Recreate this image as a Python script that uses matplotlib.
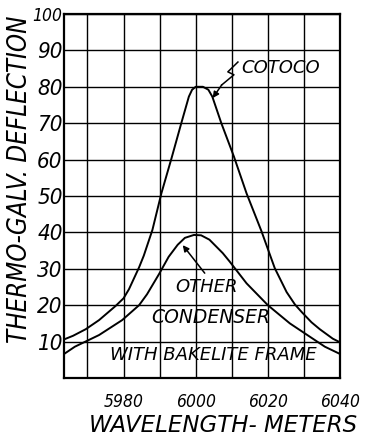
import matplotlib
matplotlib.use("Agg")
import matplotlib.pyplot as plt

# values
cotoco_x = [5963.5, 5966, 5969.5, 5973.2, 5977.8, 5980, 5981.5, 5984.3, 5985.6,
            5988, 5990.5, 5993.3, 5996, 5998.1, 5999, 6000, 6002, 6003.5,
            6004.6, 6007.1, 6010.6, 6014.1, 6018.2, 6021.9, 6025.2, 6027.5,
            6029.4, 6032.1, 6034.4, 6038, 6040]
cotoco_y = [10.6, 11.6, 13.4, 15.9, 19.8, 21.9, 24.4, 30.4, 33.6,
            40.7, 50.8, 60.4, 70, 77.3, 79.2, 80, 80, 79.2,
            77.3, 70, 60.8, 50.7, 40.4, 30.2, 23.6, 20.2,
            18.1, 15.3, 13.4, 10.8, 9.8]

other_x = [5963.5, 5966.5, 5973.2, 5979.6, 5984.3, 5986.5, 5989.8, 5992.5,
           5995, 5997, 5999.5, 6001.5, 6003.8, 6007.5, 6009.4, 6014.1, 6020,
           6026.1, 6031.7, 6035.8, 6040]
other_y = [6.6, 8.6, 11.8, 15.9, 20, 23.0, 28.5, 33.3,
           36.6, 38.5, 39.3, 39.2, 38, 34.3, 32, 26, 20,
           15, 11.3, 8.6, 6.6]

x_major = [5980, 6000, 6020, 6040]
x_minor = [5970, 5990, 6010, 6030]
y_ticks = [10, 20, 30, 40, 50, 60, 70, 80, 90, 100]

NARROW = dict(family="DejaVu Sans", stretch="condensed", style="oblique",
              color="black")
HAND = dict(family="DejaVu Sans", style="oblique", color="black")

fig = plt.figure(figsize=(3.66, 4.37), dpi=100)
ax = fig.add_axes([0.175, 0.135, 0.754, 0.833])

ax.plot(cotoco_x, cotoco_y, color="black", lw=1.4, solid_capstyle="round",
        solid_joinstyle="round", zorder=3)
ax.plot(other_x, other_y, color="black", lw=1.4, solid_capstyle="round",
        solid_joinstyle="round", zorder=3)

ax.set_xlim(5963.5, 6040)
ax.set_ylim(0, 100)
ax.set_xticks(x_major)
ax.set_xticks(x_minor, minor=True)
ax.set_yticks(y_ticks)
ax.grid(True, which="both", color="black", lw=1.0)
ax.tick_params(which="both", length=0)
ax.set_xticklabels([str(v) for v in x_major], fontsize=12.5, **NARROW)
ax.set_yticklabels([str(v) for v in y_ticks], fontsize=16, **NARROW)
ax.get_yticklabels()[-1].set_fontsize(12.5)
ax.tick_params(axis="x", pad=11)
ax.tick_params(axis="y", pad=1)
for sp in ax.spines.values():
    sp.set_linewidth(1.6)

ax.set_xlabel("WAVELENGTH- METERS", fontsize=16.5, **HAND)
ax.set_ylabel("THERMO-GALV. DEFLECTION", fontsize=18.5, **NARROW)
ax.xaxis.set_label_coords(0.576, -0.100)
ax.yaxis.set_label_coords(-0.112, 0.547)

# annotations: COTOCO with a zig-zag leader
ax.text(6012.5, 85.2, "COTOCO", fontsize=13, ha="left", va="center", **HAND)
zig_x = [6011.7, 6008.9, 6010.6, 6007.2]
zig_y = [86.8, 84.1, 83.3, 80.5]
ax.plot(zig_x, zig_y, color="black", lw=1.1, zorder=4)
ax.annotate("", xy=(6004.7, 76.9), xytext=(zig_x[-1], zig_y[-1]),
            arrowprops=dict(arrowstyle="-|>", color="black", lw=1.1,
                            mutation_scale=9, shrinkA=0, shrinkB=0))

ax.text(6003.1, 25, "OTHER", fontsize=13, ha="center", va="center", **HAND)
ax.annotate("", xy=(5996.4, 36.5), xytext=(6002.5, 28.8),
            arrowprops=dict(arrowstyle="-|>", color="black", lw=1.1,
                            mutation_scale=9, shrinkA=0, shrinkB=0))
ax.text(6004.2, 16.5, "CONDENSER", fontsize=13.5, ha="center", va="center",
        **HAND)
ax.text(6005, 6.3, "WITH BAKELITE FRAME", fontsize=13, ha="center",
        va="center", **HAND)

fig.savefig("out.png", dpi=100)
